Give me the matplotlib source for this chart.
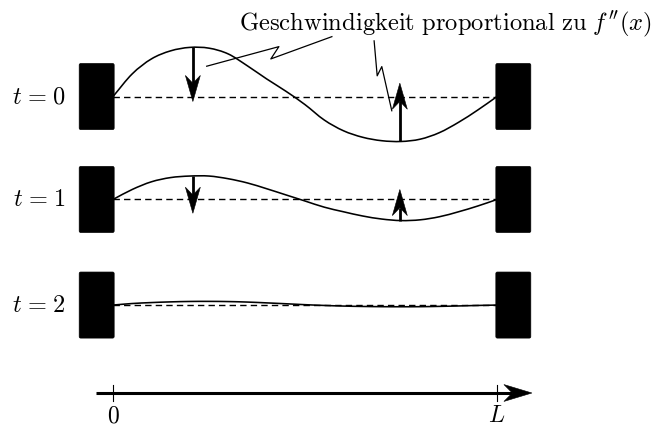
import numpy as np
import matplotlib
matplotlib.use("Agg")
import matplotlib.pyplot as plt
from matplotlib.path import Path
from matplotlib.patches import PathPatch, Polygon, FancyBboxPatch

plt.rcParams["mathtext.fontset"] = "cm"

# string positions (fraction of L) and displacement (units of L)
x_pos = [0.00, 0.05, 0.10, 0.15, 0.20, 0.25, 0.30, 0.35, 0.40, 0.45, 0.50,
         0.55, 0.60, 0.65, 0.70, 0.75, 0.80, 0.85, 0.90, 0.95, 1.00]
disp_t0 = [0.0, 0.059, 0.098, 0.119, 0.128, 0.126, 0.111, 0.080, 0.046, 0.014, -0.021,
           -0.061, -0.089, -0.106, -0.115, -0.117, -0.111, -0.094, -0.067, -0.035, 0.0]
disp_t1 = [0.0, 0.026, 0.046, 0.057, 0.061, 0.061, 0.054, 0.043, 0.028, 0.012, -0.004,
           -0.020, -0.032, -0.043, -0.051, -0.055, -0.053, -0.045, -0.032, -0.017, 0.0]
disp_t2 = [0.0, 0.0040, 0.0065, 0.0083, 0.0094, 0.0096, 0.0091, 0.0078, 0.0057, 0.0034, 0.0010,
           -0.0010, -0.0026, -0.0036, -0.0042, -0.0044, -0.0042, -0.0034, -0.0023, -0.0010, 0.0]
times = ["0", "1", "2"]
row_base = [0.772, 0.504, 0.229]

# velocity arrows: x position, start on the curve, tip (units of L)
arrow_x = [0.208, 0.747]
arrow_start = [[0.128, -0.117], [0.061, -0.055]]
arrow_tip = [[-0.013, 0.035], [-0.036, 0.026]]

title = r"$\mathrm{Geschwindigkeit\ proportional\ zu}\ f''(x)$"
tick_pos = [0.0, 1.0]
tick_labels = [r"$0$", r"$L$"]


def smooth_path(xs, ys):
    pts = np.column_stack([xs, ys])
    ext = np.vstack([2 * pts[0] - pts[1], pts, 2 * pts[-1] - pts[-2]])
    verts, codes = [pts[0]], [Path.MOVETO]
    for i in range(len(pts) - 1):
        p0, p1, p2, p3 = ext[i], ext[i + 1], ext[i + 2], ext[i + 3]
        verts += [p1 + (p2 - p0) / 6, p2 - (p3 - p1) / 6, p2]
        codes += [Path.CURVE4] * 3
    return Path(verts, codes)


def stealth_arrow(ax, p0, p1, head_len, head_w, lw, notch=0.3):
    p0, p1 = np.asarray(p0, float), np.asarray(p1, float)
    d = (p1 - p0) / np.linalg.norm(p1 - p0)
    n = np.array([-d[1], d[0]])
    back = p1 - d * head_len
    mid = p1 - d * head_len * (1 - notch)
    ax.plot([p0[0], mid[0]], [p0[1], mid[1]], color="black", lw=lw,
            solid_capstyle="butt", zorder=4)
    ax.add_patch(Polygon([p1, back + n * head_w / 2, mid, back - n * head_w / 2],
                         closed=True, fc="black", ec="black", lw=0.4, zorder=5))


fig = plt.figure(figsize=(6.59, 4.26), dpi=100)
ax = fig.add_axes([0, 0, 1, 1])
ax.set_xlim(-113 / 384, 546 / 384)
ax.set_ylim(-33 / 384, 393 / 384)
ax.axis("off")

rect_w, rect_h = 0.091, 0.172
for i, disp in enumerate([disp_t0, disp_t1, disp_t2]):
    yb = row_base[i]
    ax.plot([x_pos[0], x_pos[-1]], [yb, yb], color="black", lw=1.0,
            linestyle=(0, (4.6, 3.0)), zorder=2)
    ax.add_patch(PathPatch(smooth_path(x_pos, np.array(disp) + yb), fill=False,
                           lw=1.15, ec="black", zorder=3))
    for x0 in (-rect_w + 0.003, 1.0 - 0.003):
        ax.add_patch(FancyBboxPatch((x0, yb - rect_h / 2), rect_w, rect_h,
                                    boxstyle="round,pad=0,rounding_size=0.004",
                                    fc="black", ec="black", lw=0.5, zorder=6))
    ax.text(-0.122, yb, r"$t\;\!=\;\!%s$" % times[i], fontsize=17.5, ha="right", va="center")

for i in range(len(arrow_start)):
    for j, xa in enumerate(arrow_x):
        yb = row_base[i]
        stealth_arrow(ax, (xa, yb + arrow_start[i][j]), (xa, yb + arrow_tip[i][j]),
                      head_len=0.068, head_w=0.039, lw=2.0)

# zigzag pointers from the label to the arrows
ax.plot([0.570, 0.411, 0.432, 0.244], [0.928, 0.870, 0.902, 0.851],
        color="black", lw=0.9, zorder=4)
ax.plot([0.680, 0.688, 0.700, 0.726], [0.917, 0.826, 0.850, 0.735],
        color="black", lw=0.9, zorder=4)
ax.text(0.327, 0.944, title, fontsize=17.7, ha="left", va="baseline")

# x axis
stealth_arrow(ax, (-0.044, 0.0), (1.091, 0.0), head_len=0.073, head_w=0.044, lw=2.2)
for xt, lab in zip(tick_pos, tick_labels):
    ax.plot([xt, xt], [-0.021, 0.021], color="black", lw=0.8)
    ax.text(xt, -0.027, lab, fontsize=17, ha="center", va="top")

fig.savefig("out.png", dpi=100)
